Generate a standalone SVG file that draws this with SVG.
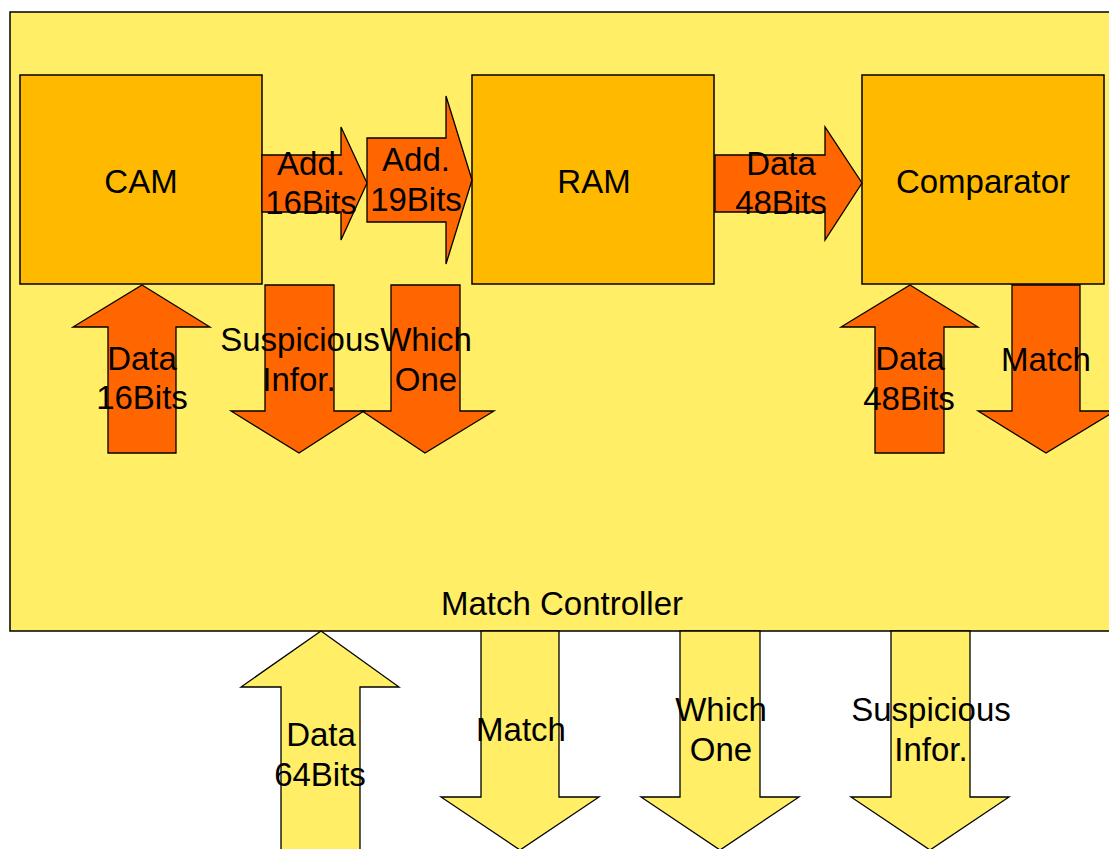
<svg xmlns="http://www.w3.org/2000/svg" width="1109" height="849" viewBox="0 0 1109 849">
<style>
.bg{fill:#FFEE66;stroke:#000;stroke-width:1.5}
.box{fill:#FFBA00;stroke:#000;stroke-width:1.5}
.ar{fill:#FF6600;stroke:#000;stroke-width:1.3;stroke-linejoin:miter}
.ay{fill:#FFEE66;stroke:#000;stroke-width:1.3;stroke-linejoin:miter}
text{font-family:"Liberation Sans",Arial,sans-serif;font-size:33px;fill:#000;text-anchor:middle}
</style>
<rect width="1109" height="849" fill="#fff"/>
<g id="match-controller">
<rect class="bg" x="10" y="12" width="1110" height="619"/>
<text x="562" y="615">Match Controller</text>
</g>
<g id="cam">
<rect class="box" x="20" y="75" width="242" height="209"/>
<text x="141" y="193">CAM</text>
</g>
<g id="ram">
<rect class="box" x="472" y="75" width="242" height="209"/>
<text x="594" y="193">RAM</text>
</g>
<g id="comparator">
<rect class="box" x="862" y="75" width="242" height="209"/>
<text x="983" y="193">Comparator</text>
</g>
<g id="connectors">
<g id="add16">
<polygon class="ar" points="262,155 341,155 341,127 367,183 341,240 341,212 262,212"/>
<text x="311" y="175">Add.</text><text x="311" y="214">16Bits</text>
</g>
<g id="add19">
<polygon class="ar" points="367,138 446,138 446,96 472,180 446,264 446,222 367,222"/>
<text x="416" y="171">Add.</text><text x="416" y="211">19Bits</text>
</g>
<g id="data48-h">
<polygon class="ar" points="715,155 825,155 825,127 862,183 825,240 825,212 715,212"/>
<text x="781" y="175">Data</text><text x="781" y="214">48Bits</text>
</g>
<g id="data16">
<polygon class="ar" points="142,285 210,327 176,327 176,453 108,453 108,327 73,327"/>
<text x="142" y="370">Data</text><text x="142" y="409">16Bits</text>
</g>
<g id="susp-inner">
<polygon class="ar" points="265,285 334,285 334,411 364,411 299,453 231,411 265,411"/>
</g>
<g id="which-inner">
<polygon class="ar" points="391,285 460,285 460,411 494,411 425,453 362,411 391,411"/>
</g>
<text x="300" y="351">Suspicious</text><text x="299" y="391">Infor.</text>
<text x="426" y="351">Which</text><text x="426" y="391">One</text>
<g id="data48-v">
<polygon class="ar" points="910,285 978,327 944,327 944,453 875,453 875,327 841,327"/>
<text x="910" y="370">Data</text><text x="909" y="410">48Bits</text>
</g>
<g id="match-inner">
<polygon class="ar" points="1012,285 1080,285 1080,411 1115,411 1046,453 978,411 1012,411"/>
<text x="1046" y="371">Match</text>
</g>
<g id="data64">
<polygon class="ay" points="321,631 399,687 360,687 360,860 281,860 281,687 241,687"/>
<text x="321" y="746">Data</text><text x="320" y="786">64Bits</text>
</g>
<g id="match-out">
<polygon class="ay" points="481,631 559,631 559,797 599,797 520,850 441,797 481,797"/>
<text x="521" y="741">Match</text>
</g>
<g id="which-out">
<polygon class="ay" points="680,631 760,631 760,797 799,797 720,850 641,797 680,797"/>
<text x="721" y="721">Which</text><text x="721" y="761">One</text>
</g>
<g id="susp-out">
<polygon class="ay" points="891,631 970,631 970,797 1009,797 930,850 851,797 891,797"/>
<text x="931" y="721">Suspicious</text><text x="931" y="761">Infor.</text>
</g>
</g>
</svg>
